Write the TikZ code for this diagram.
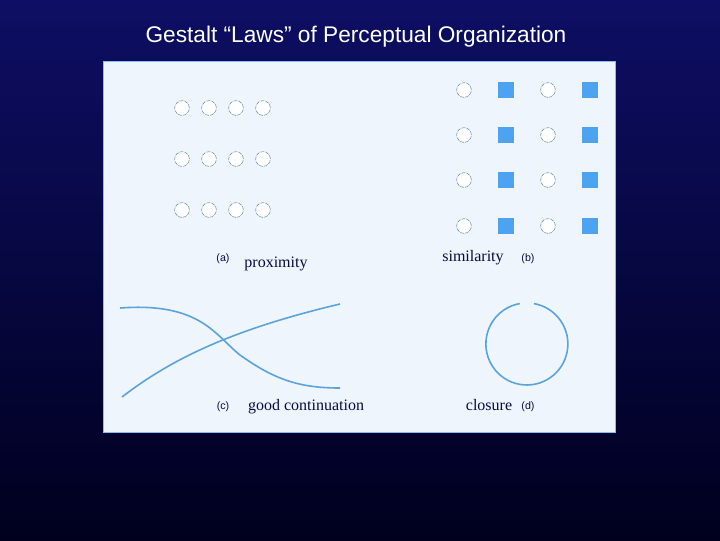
\documentclass[tikz,border=0pt]{standalone}
\usepackage{fontspec}
\newfontfamily\sansf{Liberation Sans}
\setmainfont{Liberation Serif}
\definecolor{panel}{HTML}{EEF5FD}
\definecolor{lineb}{HTML}{5BA3DA}
\definecolor{sq}{HTML}{4DA3F0}
\definecolor{txt}{HTML}{0A0A40}
\tikzset{dot/.style={circle,draw=gray!60!cyan!80!black,dashed,dash pattern=on 3pt off 0.8pt,fill=white,minimum size=11pt,inner sep=0pt},
 sqr/.style={rectangle,fill=sq,minimum size=12pt,inner sep=0pt},
 lbl/.style={font=\fontsize{12}{14}\selectfont,text=txt,inner sep=0pt,anchor=base},
 tag/.style={font=\sansf\fontsize{8}{9}\selectfont,text=txt,inner sep=0pt,anchor=base},
 curve/.style={draw=lineb,line width=1.2pt}}
\begin{document}
\begin{tikzpicture}[x=0.75pt,y=-0.75pt]
\shade[top color={rgb,255:red,14;green,14;blue,100}, bottom color={rgb,255:red,0;green,0;blue,30}] (0,0) rectangle (720,540);
\useasboundingbox (0,0) rectangle (720,540);
\node[text=white,font=\sansf\fontsize{17}{19}\selectfont] (title) at (356,37) {Gestalt “Laws” of Perceptual Organization};
\draw[fill=panel,draw=sq!70] (103,61) rectangle (615,432);
\foreach \x [count=\i] in {182,209,236,263}
 \foreach \y [count=\j] in {108,159,210}
  \node[dot] (p\i\j) at (\x,\y) {};
\foreach \y [count=\j] in {90,135,180,226}{
 \node[dot] (sa\j) at (464,\y) {};
 \node[sqr] (sb\j) at (506,\y) {};
 \node[dot] (sc\j) at (548,\y) {};
 \node[sqr] (sd\j) at (590,\y) {};}
\node[tag] (ta) at (223,261) {(a)};
\node[lbl] (la) at (276,267) {proximity};
\node[lbl] (lb) at (473,261) {similarity};
\node[tag] (tb) at (528,261) {(b)};
\node[tag] (tc) at (223,409) {(c)};
\node[lbl] (lc) at (306,410) {good continuation};
\node[lbl] (ld) at (489,410) {closure};
\node[tag] (td) at (528,409) {(d)};
\draw[curve] (120,308) .. controls (200,302) and (215,335) .. (240,355) .. controls (275,380) and (300,388) .. (340,388);
\draw[curve] (122,397) .. controls (170,360) and (230,330) .. (340,304);
\draw[curve] (534,303.6) arc (-80:260:41);
\end{tikzpicture}
\end{document}
